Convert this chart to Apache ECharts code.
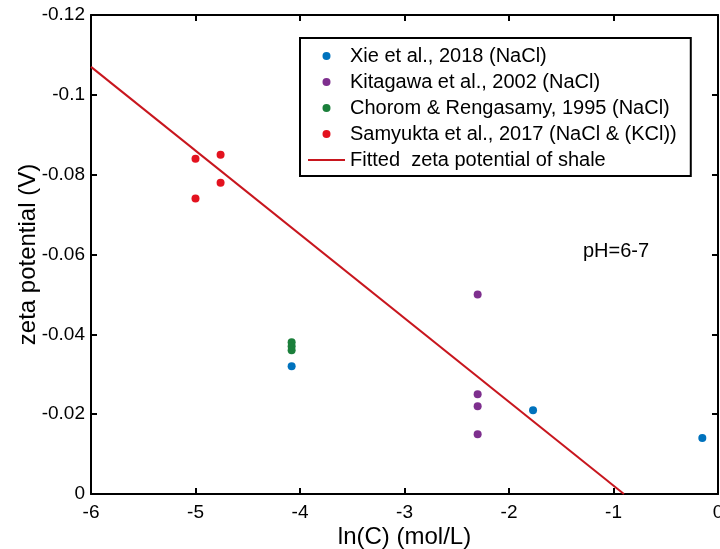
<!DOCTYPE html>
<html>
<head>
<meta charset="utf-8">
<script src="https://cdn.jsdelivr.net/npm/echarts@6/dist/echarts.min.js"></script>
<style>html,body{margin:0;padding:0;background:#fff}#c{width:720px;height:549px}</style>
</head>
<body>
<div id="c"></div>
<script>
var xTicks = [-6, -5, -4, -3, -2, -1, 0];
var yTicks = [-0.12, -0.1, -0.08, -0.06, -0.04, -0.02, 0];
var xieData = [[-4.08, -0.032], [-1.77, -0.021], [-0.15, -0.014]];
var kitagawaData = [[-2.30, -0.050], [-2.30, -0.025], [-2.30, -0.022], [-2.30, -0.015]];
var choromData = [[-4.08, -0.038], [-4.08, -0.037], [-4.08, -0.036]];
var samyuktaData = [[-5.0, -0.084], [-5.0, -0.074], [-4.76, -0.085], [-4.76, -0.078]];
var fitLine = [[-6, -0.107], [-0.9, 0]];
var seriesNames = ['Xie et al., 2018 (NaCl)', 'Kitagawa et al., 2002 (NaCl)', 'Chorom & Rengasamy, 1995 (NaCl)', 'Samyukta et al., 2017 (NaCl & (KCl))', 'Fitted  zeta potential of shale'];
var FONT = 'Liberation Sans, Arial, sans-serif';

var chart = echarts.init(document.getElementById('c'));
var axLine = {show: true, onZero: false, lineStyle: {color: '#000', width: 2}};
var tick = {show: true, inside: true, length: 6, lineStyle: {color: '#000', width: 2}};
function sc(name, data, color) {
  return {name: name, type: 'scatter', data: data, symbol: 'circle', symbolSize: 8,
    itemStyle: {color: color, opacity: 1}, z: 3};
}
chart.setOption({
  animation: false,
  backgroundColor: '#fff',
  grid: {left: 91, right: 2, top: 15, bottom: 55, containLabel: false, outerBoundsMode: 'none'},
  xAxis: [{
    type: 'value', min: xTicks[0], max: xTicks[xTicks.length - 1], interval: 1,
    position: 'bottom', axisLine: axLine, axisTick: tick, splitLine: {show: false},
    axisLabel: {color: '#000', fontSize: 19, fontFamily: FONT, margin: 9},
    name: 'ln(C) (mol/L)', nameLocation: 'middle', nameGap: 31, nameMoveOverlap: false,
    nameTextStyle: {color: '#000', fontSize: 24, fontFamily: FONT}
  }, {
    type: 'value', min: xTicks[0], max: xTicks[xTicks.length - 1], interval: 1,
    position: 'top', axisLine: axLine, axisTick: tick, splitLine: {show: false},
    axisLabel: {show: false}
  }],
  yAxis: [{
    type: 'value', inverse: true, min: yTicks[0], max: yTicks[yTicks.length - 1], interval: 0.02,
    position: 'left', axisLine: axLine, axisTick: tick, splitLine: {show: false},
    axisLabel: {color: '#000', fontSize: 19, fontFamily: FONT, margin: 6,
      formatter: function (v) { return String(parseFloat(v.toFixed(2))); }},
    name: 'zeta potential (V)', nameLocation: 'middle', nameGap: 51, nameRotate: 90,
    nameMoveOverlap: false,
    nameTextStyle: {color: '#000', fontSize: 24, fontFamily: FONT}
  }, {
    type: 'value', inverse: true, min: yTicks[0], max: yTicks[yTicks.length - 1], interval: 0.02,
    position: 'right', axisLine: axLine, axisTick: tick, splitLine: {show: false},
    axisLabel: {show: false}
  }],
  legend: {
    orient: 'vertical', left: 300, top: 38,
    padding: [8, 14, 6, 8], itemGap: 6, itemWidth: 37, itemHeight: 8,
    backgroundColor: '#fff', borderColor: '#000', borderWidth: 2, borderRadius: 0,
    textStyle: {color: '#000', fontSize: 20, fontFamily: FONT},
    data: [seriesNames[0], seriesNames[1], seriesNames[2], seriesNames[3],
      {name: seriesNames[4], icon: 'path://M0,0H37V2H0Z'}],
    z: 10
  },
  graphic: [{
    type: 'text', left: 583, top: 241,
    style: {text: 'pH=6-7', fill: '#000', font: '20px ' + FONT}
  }],
  series: [
    sc(seriesNames[0], xieData, '#0072bd'),
    sc(seriesNames[1], kitagawaData, '#7e2f8e'),
    sc(seriesNames[2], choromData, '#1b7f3b'),
    sc(seriesNames[3], samyuktaData, '#e3121f'),
    {name: seriesNames[4], type: 'line', data: fitLine, symbol: 'none',
      lineStyle: {color: '#c8161e', width: 2}, itemStyle: {color: '#c8161e'}, z: 2}
  ]
});
</script>
</body>
</html>
